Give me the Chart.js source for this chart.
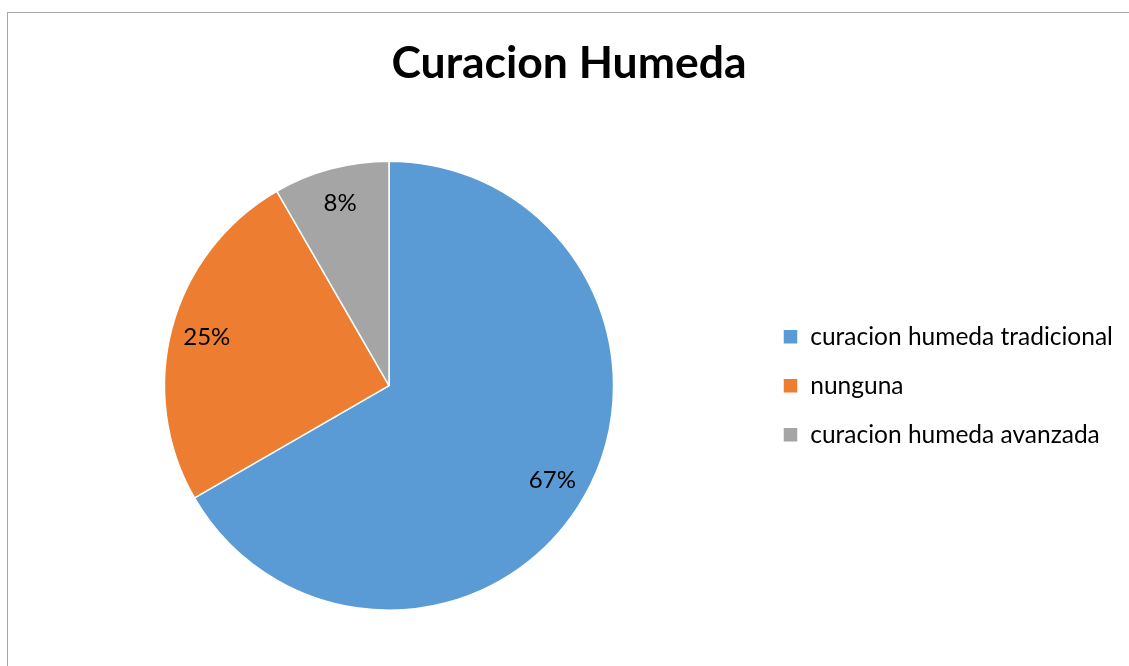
<!DOCTYPE html>
<html>
<head>
<meta charset="utf-8">
<script src="https://cdn.jsdelivr.net/npm/chart.js@4"></script>
<style>
  html, body { margin: 0; padding: 0; background: #fff; overflow: hidden; }
  #wrap { position: relative; width: 1129px; height: 666px; }
  #frame { position: absolute; left: 7px; top: 12px; width: 1140px; height: 680px; border: 1px solid #a6a6a6; }
  canvas { position: absolute; left: 0; top: 0; }
</style>
</head>
<body>
<div id="wrap">
  <div id="frame"></div>
  <canvas id="myCanvas" width="1129" height="666"></canvas>
</div>
<script>
'use strict';

var categories = ['curacion humeda tradicional', 'nunguna', 'curacion humeda avanzada'];
var counts = [8, 3, 1];
var sliceColors = ['#5B9BD5', '#ED7D31', '#A5A5A5'];

var FONT = 'Lato, "Open Sans", sans-serif';

// percentage labels inside slices
var pctLabels = {
    id: 'pctLabels',
    afterDatasetsDraw: function (chart) {
        var ctx = chart.ctx,
            meta = chart.getDatasetMeta(0),
            total = counts.reduce(function (a, b) { return a + b; }, 0);
        ctx.save();
        ctx.font = '24px ' + FONT;
        ctx.fillStyle = '#000';
        ctx.textAlign = 'center';
        ctx.textBaseline = 'middle';
        meta.data.forEach(function (arc, i) {
            var p = arc.getProps(['x', 'y', 'startAngle', 'endAngle', 'outerRadius'], true),
                mid = (p.startAngle + p.endAngle) / 2,
                r = p.outerRadius * 0.84;
            ctx.fillText(Math.round(counts[i] / total * 100) + '%',
                p.x + Math.cos(mid) * r, p.y + Math.sin(mid) * r);
        });
        ctx.restore();
    }
};

var ctx = document.getElementById('myCanvas').getContext('2d');
var myPieChart = new Chart(ctx, {
    type: 'pie',
    data: {
        labels: categories,
        datasets: [
            {
                data: counts,
                backgroundColor: sliceColors,
                borderColor: '#ffffff',
                borderWidth: 1.5
            }
        ]
    },
    options: {
        responsive: false,
        animation: false,
        layout: {
            padding: { left: 19.5, right: 10.5, top: 0, bottom: 55 }
        },
        plugins: {
            title: {
                display: true,
                text: 'Curacion Humeda',
                color: '#000',
                font: { family: FONT, size: 44.5, weight: 'bold', lineHeight: 1.2 },
                padding: { top: 37, bottom: 70 }
            },
            legend: {
                position: 'right',
                fullSize: false,
                maxWidth: 360,
                labels: {
                    boxWidth: 15,
                    boxHeight: 15,
                    padding: 24.5,
                    color: '#000',
                    font: { family: FONT, size: 24.5 }
                }
            },
            tooltip: { enabled: false }
        }
    },
    plugins: [pctLabels]
});
</script>
</body>
</html>
